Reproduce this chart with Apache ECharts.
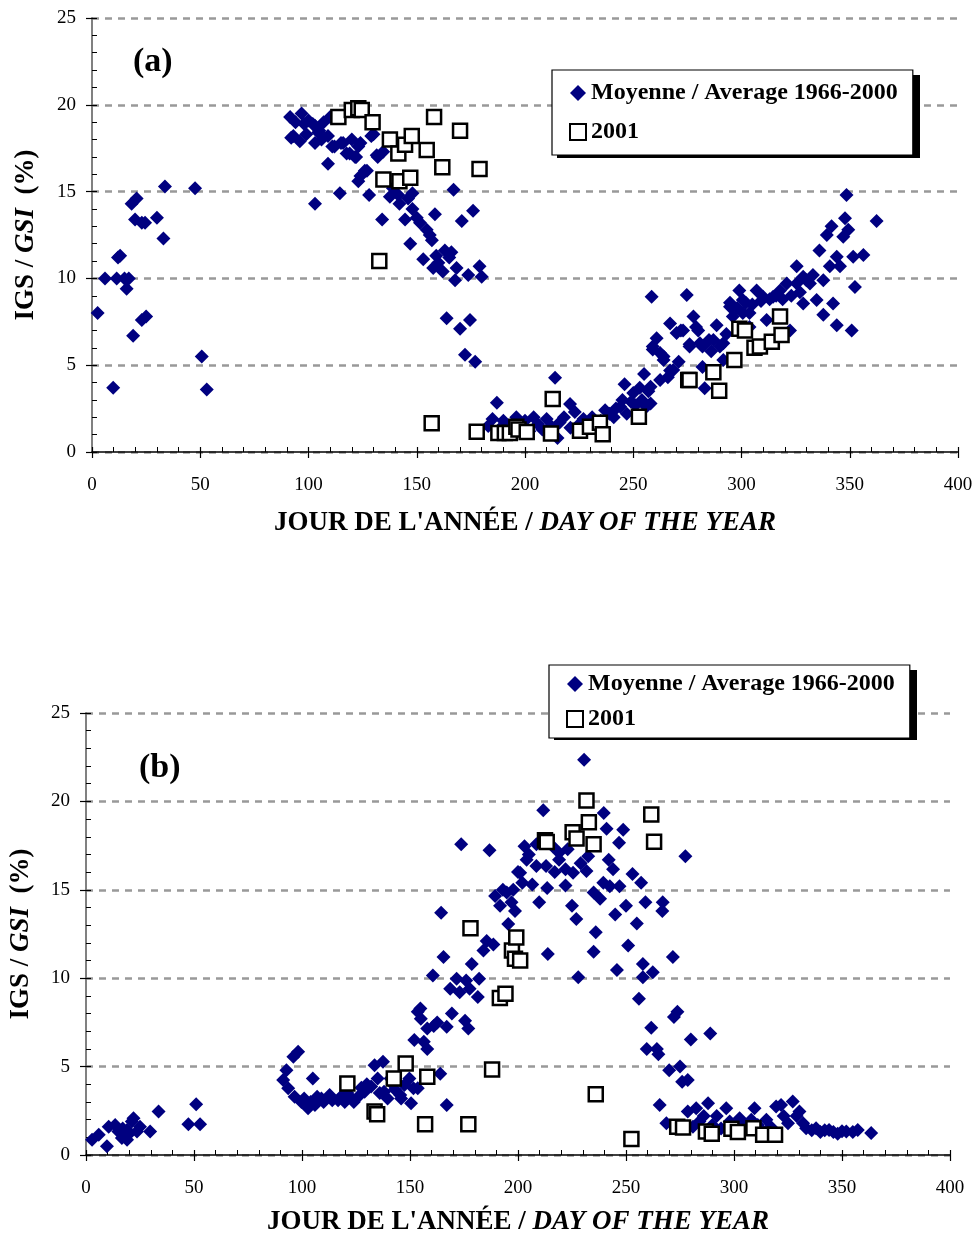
<!DOCTYPE html>
<html>
<head>
<meta charset="utf-8">
<script src="https://cdn.jsdelivr.net/npm/echarts@6/dist/echarts.min.js"></script>
<style>
html,body{margin:0;padding:0;background:#fff;}
#chart{width:977px;height:1237px;}
</style>
</head>
<body>
<div id="chart"></div>
<script>
// ---------- DATA ----------
const legendAvg = 'Moyenne / Average 1966-2000';
const legend2001 = '2001';
const xTicks = [0, 50, 100, 150, 200, 250, 300, 350, 400];
const yTicks = [0, 5, 10, 15, 20, 25];

// Panel (a) : [day of year, GSI %]
const avgA = [
[2.6,8.0],[6,10.0],[9.8,3.7],[11.4,10.0],[12,11.2],[13,11.3],[15,10.0],[16,9.4],[17,10.0],[18.3,14.3],[19,6.7],[19.9,13.4],[20.6,14.6],[23,13.2],[23,7.6],[24.5,13.2],[25,7.8],[30,13.5],[33,12.3],[33.7,15.3],[47.6,15.2],[50.7,5.5],[53,3.6],
[91.5,19.3],[92,18.1],[93,18.2],[94,19.0],[96,17.9],[96.8,19.5],[98,18.9],[99,18.3],[100,19.1],[102,18.9],[103,18.8],[103,17.8],[103,14.3],[104.5,18.4],[105,18.5],[106,18.0],[107,19.0],[109,18.2],[109,16.6],[110,19.3],[111,17.6],[112,17.6],[114.5,14.9],[115,17.8],[116,17.8],[117.6,17.2],[119,17.2],[120,18.0],[121.5,17.0],[122,17.0],[123,17.6],[123,15.6],[124,17.8],[124,15.9],[126,16.2],[127,16.2],[128,14.8],[129,18.2],[130,18.3],[131.5,17.1],[132,17.0],[134,13.4],[134.5,17.3],[137.6,14.7],[139,15.2],[141.5,14.8],[142,14.3],[144.6,13.4],[146,14.6],[147,12.0],[148,14.9],[148,14.0],[150,13.5],[151.5,13.2],[153,11.1],[154.6,12.8],[156,12.5],[157,12.2],[157.6,10.6],[158.4,13.7],[159,11.3],[160,10.9],[162,10.4],[163,11.6],[163.8,7.7],[165,11.2],[166,11.5],[167,15.1],[167.7,9.9],[168.4,10.6],[170,7.1],[170.8,13.3],[172.3,5.6],[173.8,10.2],[174.6,7.6],[176,13.9],[177,5.2],[179,10.7],[180,10.1],
[183,1.5],[185,1.9],[187,2.84],[188,1.3],[190,1.8],[192,1.2],[194,1.6],[196,2.0],[198,1.4],[200,1.8],[202,1.2],[204,2.0],[206,1.6],[208,1.3],[210,1.9],[212,1.5],[213.9,4.28],[215,0.8],[216,1.7],[218,2.0],[220.8,2.76],[221,1.4],[223,2.3],[225,1.6],[227,1.9],[229,1.4],[231,2.0],[233,1.6],[235,1.8],[237,2.4],[239,2.2],[241,2.0],[242,2.5],[244,2.6],[245,3.0],[246,3.9],[247,2.2],[249,2.9],[250,3.4],[251,2.7],[253,3.7],[254,3.0],[255,4.5],[256,2.6],[257,3.5],[258,2.8],
[258,3.76],[258.5,8.95],[259,5.9],[259,6.07],[260.8,6.55],[262.4,5.7],[262.4,4.15],[264,5.3],[264,5.5],[266,4.3],[267,7.4],[267,4.7],[268.5,4.72],[270,6.85],[271,5.2],[272,7.0],[273,7.0],[274.7,9.04],[276,6.2],[276,6.07],[277.8,7.8],[279,7.2],[280,7.0],[280.8,6.26],[282,6.07],[282,4.9],[283,3.67],[285,6.45],[286,5.8],[287,6.45],[288.5,7.3],[290,6.07],[291.6,5.3],[291.6,6.26],[293,6.8],[294.7,8.6],[294.7,8.37],[296,7.8],[298,8.3],[299,9.3],[300.6,8.75],[300.6,8.0],[302,8.6],[303.7,8.0],[303.7,7.2],[305,8.5],[307,9.3],[309,8.7],[310,8.95],[311.6,7.6],[313,8.8],[314.6,8.95],[316,9.0],[317.8,9.3],[319,8.8],[320.9,9.7],[322.4,7.0],[323,9.0],[325.5,9.7],[325.5,10.7],[327,9.2],[328.5,10.1],[328.5,8.56],[330,9.9],[331.6,9.7],[333,10.2],[334.7,8.75],[336,11.6],[337.8,9.9],[337.8,7.9],[339.4,12.5],[340.8,10.7],[341.6,13.0],[342.3,8.56],[344,11.25],[344,7.3],[345.5,10.7],[347,12.4],[347.8,13.46],[348.5,14.8],[349.3,12.8],[350.9,7.0],[351.6,11.25],[352.4,9.5],[356.3,11.35],[362.4,13.3]
];
const y2001A = [
[113.8,19.3],[120,19.7],[123,19.8],[124.6,19.7],[129.6,19.0],[132.7,11.0],[134.6,15.7],[137.6,18.0],[141.5,17.2],[142,15.6],[144.6,17.7],[147,15.8],[147.7,18.2],[154.6,17.4],[156.9,1.65],[158,19.3],[161.8,16.4],[170,18.5],[177.7,1.17],[179,16.3],[187.7,1.1],[190.7,1.1],[193,1.1],[196,1.46],[197,1.3],[200.8,1.15],[212,1.07],[212.8,3.05],[225.4,1.23],[230,1.46],[234.6,1.69],[235.9,1.02],[252.6,2.03],[275.4,4.15],[276,4.15],[287,4.6],[289.7,3.53],[296.7,5.3],[299,7.1],[301.6,7.0],[306,6.0],[308.5,6.07],[314,6.35],[317.8,7.8],[318.5,6.74]
];

// Panel (b)
const avgB = [
[2.8,0.86],[5.9,1.14],[9.7,0.49],[10.5,1.6],[13.5,1.7],[15,1.33],[16.6,0.96],[17,1.5],[19,1.42],[19,0.86],[20,1.2],[21.2,1.9],[22,2.08],[23.6,1.33],[25,1.6],[29.7,1.33],[33.6,2.46],[47.4,1.74],[51,2.87],[52.8,1.74],
[91.3,4.24],[92.8,4.8],[93.6,3.77],[96,5.56],[96.6,3.3],[98.2,5.84],[99.7,3.0],[101,3.2],[102.8,2.65],[104,3.0],[105,4.33],[106,2.83],[107,3.3],[109,3.2],[110,3.0],[112.8,3.4],[114,3.1],[116.7,3.1],[118,3.3],[119.8,3.0],[121,3.5],[122.9,3.2],[124,3.0],[126,3.3],[127.5,3.8],[129,3.58],[130,4.0],[132,3.87],[133.6,5.08],[135,4.33],[136,3.5],[137.5,5.28],[138,3.58],[139.6,3.2],[141,4.33],[142,4.0],[143,3.7],[145.5,3.4],[145.9,3.2],[147.4,3.96],[149.7,4.33],[150.5,2.93],[151.6,3.77],[152,6.5],[153.6,3.77],[153.6,8.1],[154.8,8.28],[155,7.7],[156.4,6.4],[158,6.0],[158,7.15],[160.6,10.15],[161,7.3],[162.6,7.5],[164,4.6],[164.4,13.7],[165.5,11.2],[167,7.25],[167,2.83],[168.6,9.4],[169.4,8.0],[171.6,9.97],[173,9.2],[173.7,17.57],[175.5,7.6],[176,9.87],[177,7.15],[177.6,9.4],[178.6,10.8],[181.4,8.94],[182,9.97],
[184,11.56],[185.5,12.1],[186.8,17.23],[188.6,11.9],[189.4,14.65],[191.7,14.1],[193,15.0],[194.8,14.85],[195.5,13.06],[197,14.3],[197.8,15.0],[198.6,13.8],[200,16.0],[201,15.97],[202,15.4],[203,17.47],[204,16.7],[205,17.0],[206.6,15.3],[208.5,17.57],[208.5,16.35],[209.8,14.3],[211.7,19.5],[213,16.35],[213.5,15.1],[213.8,11.37],[216,17.47],[217,16.0],[219,17.1],[219,16.7],[222,16.16],[222,15.25],[223,17.3],[225,14.1],[225.5,15.97],[227,13.35],[227.9,10.06],[229,16.5],[230.6,22.35],[231.7,16.06],[232.5,16.9],[235,14.85],[235,11.5],[236,12.6],[238,14.5],[239.5,15.4],[239.7,19.35],[241,18.45],[242,16.7],[242.5,15.2],[244,16.16],[245,13.6],[245.8,10.47],[246.8,17.66],[247,15.2],[248.7,18.4],[250,14.1],[251,11.85],
[253,15.9],[255,13.1],[256,8.84],[257,15.4],[257.8,10.8],[257.8,10.06],[259,14.3],[259.6,6.0],[261.7,7.2],[262.4,10.34],[264.3,6.0],[265,5.7],[265.6,2.83],[266.8,13.8],[267,14.3],[268.7,1.8],[270,4.8],[271.7,11.2],[272.2,7.8],[273.8,8.1],[275,5.0],[276,4.15],[277.5,16.9],[278.6,4.24],[278.6,2.46],[280,6.53],[281,1.6],[282.5,2.65],[284,1.9],[286,2.2],[288,2.93],[289,6.87],[290,1.7],[292,2.2],[294,1.5],[296.4,2.65],[298,1.9],[300,1.6],[302.6,2.08],[304,1.8],[306,1.5],[308,2.0],[309.5,2.65],[311,1.7],[313,1.4],[315,2.0],[317,1.6],[319.5,2.74],[321.8,2.83],[323,2.2],[325,1.8],[327.2,3.02],[329,2.2],[330.3,2.46],[332,1.8],[333.4,1.52],[336,1.4],[338,1.52],[340,1.3],[342,1.4],[344,1.42],[346,1.3],[348,1.2],[350,1.35],[352,1.33],[355,1.3],[357.3,1.42],[363.5,1.24]
];
const y2001B = [
[121,4.05],[133.6,2.46],[134.8,2.3],[142.5,4.33],[148,5.18],[157,1.74],[158,4.43],[177,1.74],[178,12.82],[188,4.84],[191.6,8.88],[194.2,9.12],[197.2,11.56],[198.6,11.1],[199.2,12.3],[201,11.0],[212.5,17.8],[213.3,17.7],[225.3,18.26],[227.1,17.9],[231.7,20.05],[232.8,18.82],[235,17.57],[236,3.43],[252.5,0.9],[261.7,19.26],[263,17.72],[273.7,1.6],[276.4,1.56],[287,1.33],[289.7,1.2],[298.8,1.48],[301.8,1.3],[309,1.52],[313.5,1.14],[319,1.14]
];

// ---------- CHART ----------
const FONT = "'Liberation Serif','Times New Roman',serif";
const xMin = xTicks[0], xMax = xTicks[xTicks.length-1], xInt = xTicks[1]-xTicks[0];
const yMin = yTicks[0], yMax = yTicks[yTicks.length-1], yInt = yTicks[1]-yTicks[0];

const titleRich = {
  b: {fontFamily: FONT, fontWeight: 'bold', fontSize: 27, color: '#000'},
  bi: {fontFamily: FONT, fontWeight: 'bold', fontStyle: 'italic', fontSize: 27, color: '#000'}
};

function xAxesFor(g, nameGap) {
  return [{
    type: 'value', gridIndex: g, min: xMin, max: xMax, interval: xInt, position: 'bottom',
    axisLine: {show: true, onZero: false, lineStyle: {color: '#000', width: 1.5}},
    axisTick: {show: true, inside: true, length: 5, lineStyle: {color: '#000', width: 1.2}},
    minorTick: {show: true, splitNumber: 5, length: 5, lineStyle: {color: '#000', width: 1}},
    axisLabel: {margin: 24, fontSize: 19, fontFamily: FONT, color: '#000'},
    splitLine: {show: false},
    name: "{b|JOUR DE L'ANNÉE / }{bi|DAY OF THE YEAR}",
    nameLocation: 'middle', nameGap: nameGap,
    nameTextStyle: {rich: titleRich}
  }, {
    type: 'value', gridIndex: g, min: xMin, max: xMax, interval: xInt, position: 'bottom',
    axisLine: {show: false},
    axisTick: {show: true, inside: false, length: 6, lineStyle: {color: '#000', width: 1.2}},
    axisLabel: {show: false}, splitLine: {show: false}
  }];
}
function yAxesFor(g, nameGap) {
  return [{
    type: 'value', gridIndex: g, min: yMin, max: yMax, interval: yInt, position: 'left',
    axisLine: {show: true, onZero: false, lineStyle: {color: '#808080', width: 2}},
    axisTick: {show: true, inside: true, length: 5, lineStyle: {color: '#000', width: 1.2}},
    minorTick: {show: true, splitNumber: 5, length: 5, lineStyle: {color: '#000', width: 1}},
    axisLabel: {margin: 16, fontSize: 19, fontFamily: FONT, color: '#000'},
    splitLine: {show: true, lineStyle: {color: '#999', width: 2.5, type: [7, 6]}},
    name: '{b|IGS / }{bi|GSI}{b|  (%)}',
    nameLocation: 'middle', nameRotate: 90, nameGap: nameGap,
    nameTextStyle: {rich: titleRich}
  }, {
    type: 'value', gridIndex: g, min: yMin, max: yMax, interval: yInt, position: 'left',
    axisLine: {show: false},
    axisTick: {show: true, inside: false, length: 6, lineStyle: {color: '#000', width: 1.2}},
    axisLabel: {show: false}, splitLine: {show: false}
  }];
}

function legendFor(left, top, padding, gap) {
  return {
    left: left, top: top, orient: 'vertical', padding: padding, itemGap: gap,
    itemWidth: 16, itemHeight: 16, z: 10,
    backgroundColor: '#fff', borderColor: '#000', borderWidth: 1.2,
    textStyle: {fontFamily: FONT, fontWeight: 'bold', fontSize: 24, color: '#000'},
    data: [{name: legendAvg, icon: 'diamond'}, {name: legend2001, icon: 'rect'}]
  };
}

const avgStyle = {color: '#000080', opacity: 1};
const newStyle = {color: '#fff', borderColor: '#000', borderWidth: 2.5, opacity: 1};

const option = {
  animation: false,
  backgroundColor: '#fff',
  title: [
    {text: '(a)', left: 128, top: 40, textStyle: {fontFamily: FONT, fontWeight: 'bold', fontSize: 34, color: '#000'}},
    {text: '(b)', left: 134, top: 746, textStyle: {fontFamily: FONT, fontWeight: 'bold', fontSize: 34, color: '#000'}}
  ],
  legend: [
    legendFor(552, 70, [11, 15, 11, 17], 15),
    legendFor(549, 665, [7, 15, 7, 17], 11)
  ],
  graphic: [
    {type: 'rect', z: 5, shape: {x: 557, y: 75, width: 363, height: 83}, style: {fill: '#000'}},
    {type: 'rect', z: 5, shape: {x: 554, y: 670, width: 363, height: 70}, style: {fill: '#000'}}
  ],
  grid: [
    {left: 92, top: 18, width: 866, height: 434},
    {left: 84, top: 713, width: 866, height: 444}
  ],
  xAxis: [].concat(xAxesFor(0, 58), xAxesFor(1, 54)),
  yAxis: [].concat(yAxesFor(0, 52), yAxesFor(1, 51)),
  series: [
    {name: legendAvg, type: 'scatter', xAxisIndex: 0, yAxisIndex: 0, symbol: 'diamond', symbolSize: 14, itemStyle: avgStyle, data: avgA},
    {name: legend2001, type: 'scatter', xAxisIndex: 0, yAxisIndex: 0, symbol: 'rect', symbolSize: 14, itemStyle: newStyle, data: y2001A},
    {name: legendAvg, type: 'scatter', xAxisIndex: 2, yAxisIndex: 2, symbol: 'diamond', symbolSize: 14, itemStyle: avgStyle, data: avgB},
    {name: legend2001, type: 'scatter', xAxisIndex: 2, yAxisIndex: 2, symbol: 'rect', symbolSize: 14, itemStyle: newStyle, data: y2001B}
  ]
};

const chart = echarts.init(document.getElementById('chart'), null, {renderer: 'canvas'});
chart.setOption(option);
</script>
</body>
</html>
